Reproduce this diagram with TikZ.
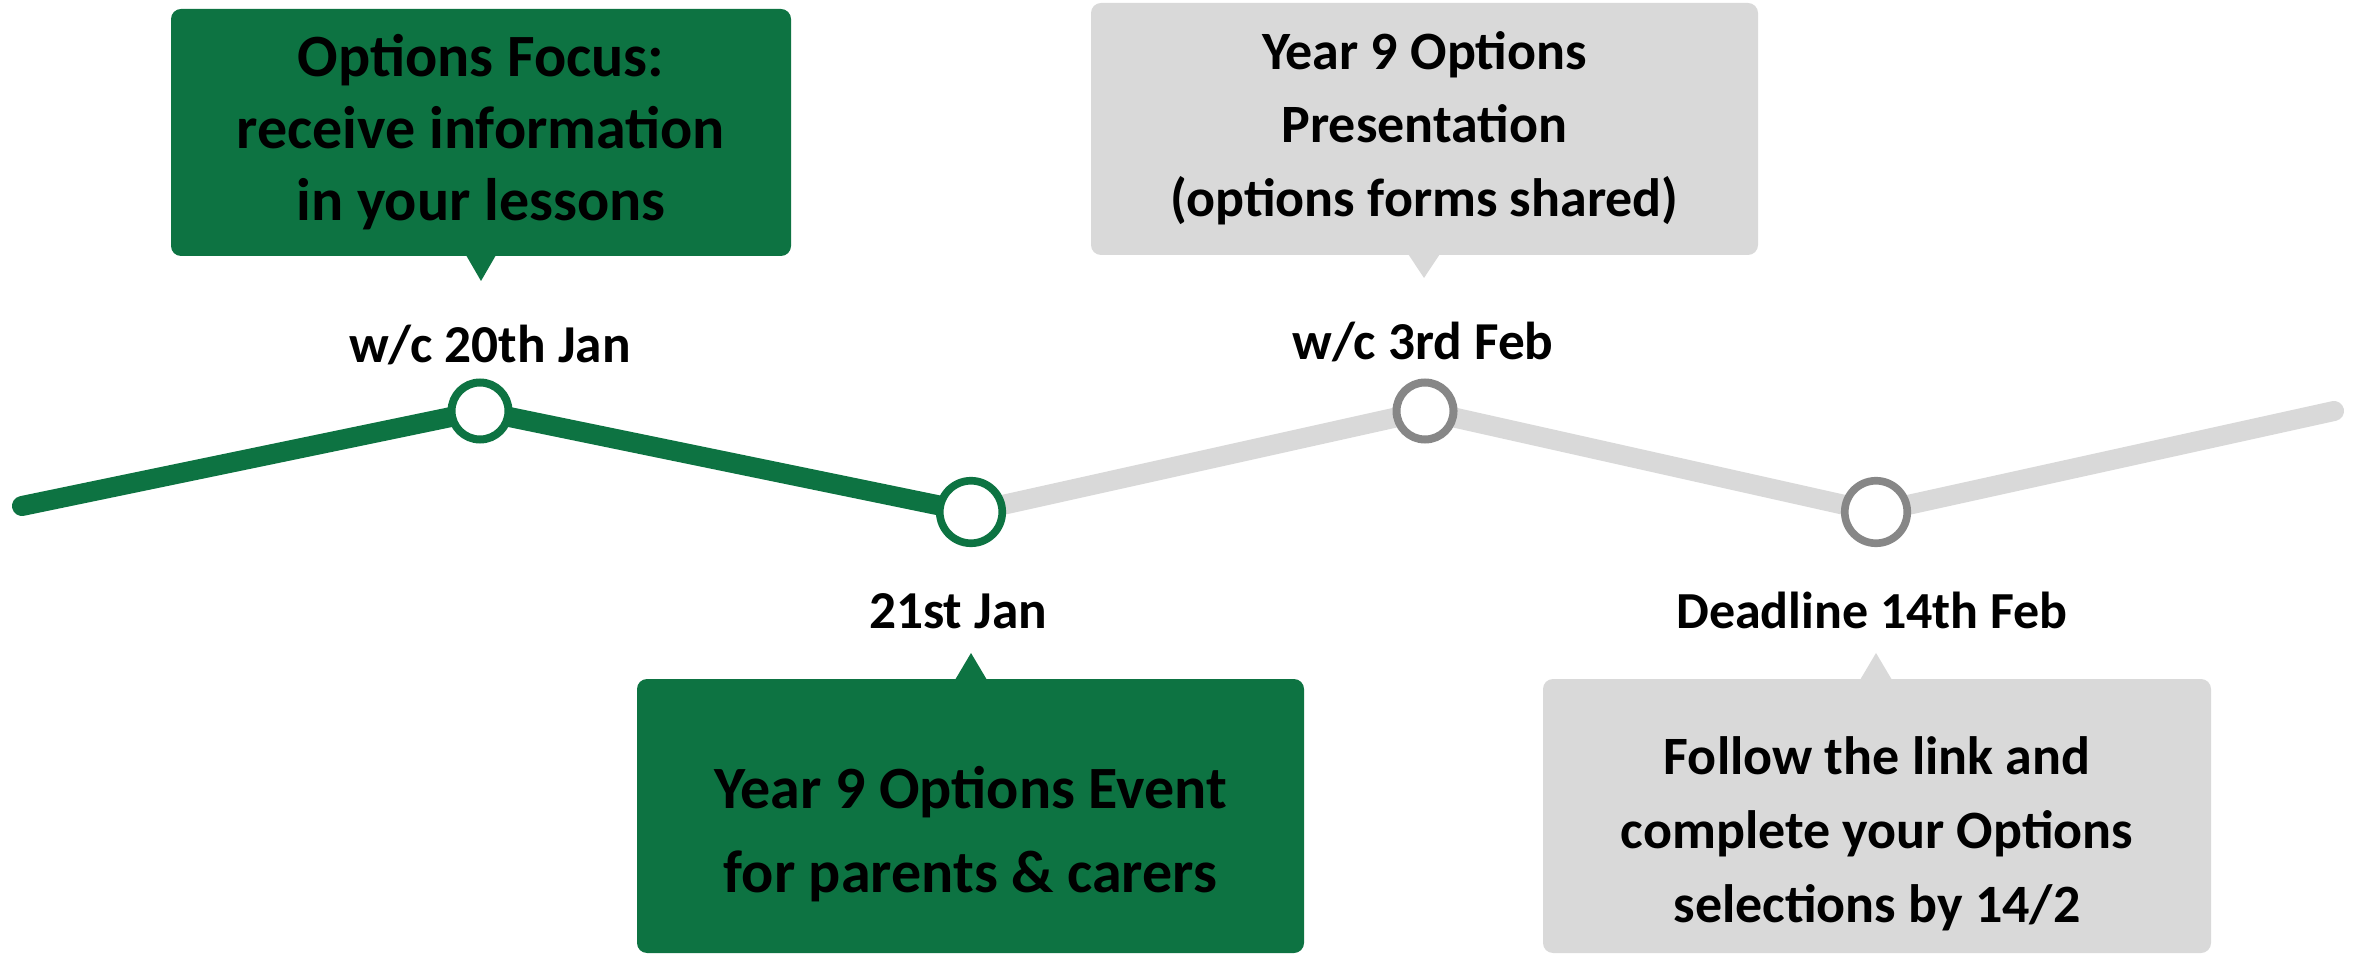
\documentclass[tikz,border=0pt]{standalone}
\usepackage{fontspec}
\setmainfont{Carlito}
\definecolor{tgreen}{HTML}{0D7342}
\definecolor{tlight}{HTML}{D9D9D9}
\definecolor{tdark}{HTML}{878787}
\begin{document}
\begin{tikzpicture}[x=0.3pt,y=-0.3pt,
  greenbox/.style={fill=tgreen,rounded corners=3pt,inner sep=0pt},
  graybox/.style={fill=tlight,rounded corners=3pt,inner sep=0pt},
  boxtext/.style 2 args={inner sep=0pt,align=center,font=\bfseries\fontsize{#1}{#2}\selectfont},
  datelabel/.style={inner sep=0pt,anchor=base,font=\bfseries\fontsize{#1}{18}\selectfont},
  topdot/.style={circle,draw=#1,fill=white,line width=2.4pt,minimum size=17.1pt,inner sep=0pt},
  botdot/.style={circle,draw=#1,fill=white,line width=2.3pt,minimum size=18.75pt,inner sep=0pt},
  track/.style={line width=6pt,line cap=round,line join=round}]
\useasboundingbox (0,0) rectangle (2361,955);
% track
\coordinate (s) at (22,506);
\coordinate (e) at (2334,411);
\coordinate (p1) at (480,411);
\coordinate (p2) at (971,512);
\coordinate (p3) at (1425,411);
\coordinate (p4) at (1876,512);
\draw[track,tlight] (p2) -- (p3) -- (p4) -- (e);
\draw[track,tgreen] (s) -- (p1) -- (p2);
\node[topdot=tgreen] (d1) at (p1) {};
\node[botdot=tgreen] (d2) at (p2) {};
\node[topdot=tdark] (d3) at (p3) {};
\node[botdot=tdark] (d4) at (p4) {};
% boxes
\node[greenbox,minimum width=186pt,minimum height=74.1pt] (b1) at (481,132.5) {};
\node[graybox,minimum width=200.1pt,minimum height=75.6pt] (b3) at (1424.5,129) {};
\node[greenbox,minimum width=200.1pt,minimum height=82.2pt] (b2) at (970.5,816) {};
\node[graybox,minimum width=200.4pt,minimum height=82.2pt] (b4) at (1877,816) {};
% box texts
\node[boxtext={18}{21.6}] (t1) at (481,132.5) {Options Focus:\\receive information\\in your lessons};
\node[boxtext={16.2}{22}] (t3) at (1424.5,128) {Year 9 Options\\Presentation\\(options forms shared)};
\node[boxtext={18}{25.2}] (t2) at (970.5,834) {Year 9 Options Event\\for parents \& carers};
\node[boxtext={16.2}{22.2}] (t4) at (1877,834) {Follow the link and\\complete your Options\\selections by 14/2};
% pointers
\coordinate (k1) at (481,281);
\coordinate (k3) at (1424,278);
\coordinate (k2) at (971,653);
\coordinate (k4) at (1876,653);
\fill[tgreen] ([xshift=-4.8pt,yshift=1pt]b1.south -| k1) -- (k1) -- ([xshift=4.8pt,yshift=1pt]b1.south -| k1) -- cycle;
\fill[tlight] ([xshift=-5.1pt,yshift=1pt]b3.south -| k3) -- (k3) -- ([xshift=5.1pt,yshift=1pt]b3.south -| k3) -- cycle;
\fill[tgreen] ([xshift=-5.1pt,yshift=-1pt]b2.north -| k2) -- (k2) -- ([xshift=5.1pt,yshift=-1pt]b2.north -| k2) -- cycle;
\fill[tlight] ([xshift=-5.1pt,yshift=-1pt]b4.north -| k4) -- (k4) -- ([xshift=5.1pt,yshift=-1pt]b4.north -| k4) -- cycle;
% dates
\node[datelabel=16] (l1) at (490,363) {w/c 20th Jan};
\node[datelabel=16] (l3) at (1423,360) {w/c 3rd Feb};
\node[datelabel=16] (l2) at (958,629) {21st Jan};
\node[datelabel=15.6] (l4) at (1872,629) {Deadline 14th Feb};
\end{tikzpicture}
\end{document}
